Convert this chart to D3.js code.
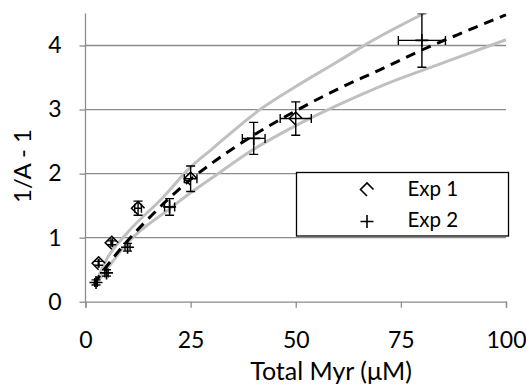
<!DOCTYPE html>
<html>
<head>
<meta charset="utf-8">
<script src="https://cdn.jsdelivr.net/npm/d3@7"></script>
<style>
  html, body { margin: 0; padding: 0; background: #fff; }
  svg { display: block; }
  text { font-family: Lato, "Open Sans", sans-serif; fill: #000; }
</style>
</head>
<body>
<svg id="chart" width="526" height="385"></svg>
<script>
// Experiment 1 (open diamonds)
const exp1X    = [3.125, 6.25, 12.5, 25, 50];
const exp1Y    = [0.60, 0.92, 1.46, 1.92, 2.86];
const exp1ErrY = [0.03, 0.03, 0.11, 0.20, 0.26];
const exp1ErrX = [0.1, 0.2, 0.8, 1.5, 3.7];

// Experiment 2 (plus signs)
const exp2X    = [2.5, 5, 10, 20, 40, 80];
const exp2Y    = [0.30, 0.45, 0.85, 1.48, 2.55, 4.08];
const exp2ErrY = [0.04, 0.05, 0.06, 0.13, 0.25, 0.42];
const exp2ErrX = [0.3, 0.4, 0.6, 1.2, 2.7, 5.6];

// Fitted curve (dashed)
const fitX = [2, 5, 10, 15, 20, 25, 30, 40, 50, 60, 70, 80, 90, 100];
const fitY = [0.28, 0.55, 0.95, 1.30, 1.62, 1.91, 2.16, 2.60, 2.98, 3.32, 3.62, 3.93, 4.21, 4.48];

// Upper and lower bounds (grey)
const upX = [2.7, 5, 10, 18, 25, 30, 41.5, 50, 60, 67, 80.5];
const upY = [0.34, 0.66, 1.08, 1.60, 2.10, 2.38, 3.00, 3.36, 3.75, 4.03, 4.50];
const loX = [2.5, 5, 10, 20, 25, 30, 40, 50, 60, 70, 85, 100];
const loY = [0.28, 0.50, 0.92, 1.45, 1.70, 1.93, 2.38, 2.75, 3.07, 3.36, 3.73, 4.09];

const xTicks = [0, 25, 50, 75, 100];
const yTicks = [0, 1, 2, 3, 4];

const svg = d3.select("#chart");
const plotLeft = 85.5, plotRight = 506, plotTop = 13.5, plotBottom = 301.7;

const x = d3.scaleLinear().domain([0, 100]).range([plotLeft, plotRight]);
const y = d3.scaleLinear().domain([0, 4.5]).range([plotBottom, plotTop]);

const gridColor = "#8c8c8c";
const tickFont = 23;

// horizontal gridlines
svg.append("g").selectAll("line").data(yTicks.filter(d => d > 0)).join("line")
  .attr("x1", plotLeft).attr("x2", plotRight)
  .attr("y1", d => y(d)).attr("y2", d => y(d))
  .attr("stroke", gridColor).attr("stroke-width", 1.3);

// x axis
const xAxis = svg.append("g").attr("transform", `translate(0,${y(0)})`)
  .call(d3.axisBottom(x).tickValues(xTicks).tickSize(6).tickPadding(24).tickFormat(d3.format("d")));
xAxis.select(".domain").attr("stroke", gridColor).attr("stroke-width", 1.3);
xAxis.selectAll(".tick line").attr("stroke", gridColor).attr("stroke-width", 1.3);
xAxis.selectAll("text").attr("font-size", tickFont).attr("font-family", "Lato, sans-serif").attr("fill", "#000");

// y axis
const yAxis = svg.append("g").attr("transform", `translate(${plotLeft},0)`)
  .call(d3.axisLeft(y).tickValues(yTicks).tickSize(6).tickPadding(18).tickFormat(d3.format("d")));
yAxis.select(".domain").attr("stroke", gridColor).attr("stroke-width", 1.3)
  .attr("d", `M0,${y(4.5)}V${y(0)}`);
yAxis.selectAll(".tick line").attr("stroke", gridColor).attr("stroke-width", 1.3);
yAxis.selectAll("text").attr("font-size", tickFont).attr("font-family", "Lato, sans-serif").attr("fill", "#000");

// clip to plot area
svg.append("clipPath").attr("id", "plot")
  .append("rect").attr("x", plotLeft).attr("y", plotTop)
  .attr("width", plotRight - plotLeft + 2).attr("height", plotBottom - plotTop);

const plot = svg.append("g").attr("clip-path", "url(#plot)");

const line = d3.line().x(d => x(d[0])).y(d => y(d[1])).curve(d3.curveMonotoneX);

plot.append("path").datum(d3.zip(upX, upY)).attr("d", line)
  .attr("fill", "none").attr("stroke", "#c0c0c0").attr("stroke-width", 3);
plot.append("path").datum(d3.zip(loX, loY)).attr("d", line)
  .attr("fill", "none").attr("stroke", "#c0c0c0").attr("stroke-width", 3);
plot.append("path").datum(d3.zip(fitX, fitY)).attr("d", line)
  .attr("fill", "none").attr("stroke", "#000").attr("stroke-width", 3)
  .attr("stroke-dasharray", "10,7");

// error bars
function errorBars(xs, ys, ex, ey) {
  const g = plot.append("g").attr("stroke", "#000").attr("stroke-width", 1.4).attr("fill", "none");
  const cap = 4.5;
  xs.forEach((xv, i) => {
    const cx = x(xv), cy = y(ys[i]);
    const y1 = y(ys[i] + ey[i]), y2 = y(ys[i] - ey[i]);
    const x1 = x(xv - ex[i]), x2 = x(xv + ex[i]);
    g.append("path").attr("d",
      `M${cx},${y1}V${y2}M${cx - cap},${y1}H${cx + cap}M${cx - cap},${y2}H${cx + cap}` +
      `M${x1},${cy}H${x2}M${x1},${cy - cap}V${cy + cap}M${x2},${cy - cap}V${cy + cap}`);
  });
}
errorBars(exp1X, exp1Y, exp1ErrX, exp1ErrY);
errorBars(exp2X, exp2Y, exp2ErrX, exp2ErrY);

// markers
const r = 6.5;
const diamondPath = (cx, cy) => `M${cx},${cy + r}L${cx - r},${cy}L${cx},${cy - r}L${cx + r},${cy}`;
const plusPath = (cx, cy) => `M${cx - r},${cy}H${cx + r}M${cx},${cy - r}V${cy + r}`;

plot.append("g").selectAll("path").data(d3.zip(exp1X, exp1Y)).join("path")
  .attr("d", d => diamondPath(x(d[0]), y(d[1])))
  .attr("fill", "none").attr("stroke", "#000").attr("stroke-width", 1.6);
plot.append("g").selectAll("path").data(d3.zip(exp2X, exp2Y)).join("path")
  .attr("d", d => plusPath(x(d[0]), y(d[1])))
  .attr("fill", "none").attr("stroke", "#000").attr("stroke-width", 1.6);

// legend
const lg = svg.append("g");
lg.append("rect").attr("x", 296.5).attr("y", 172.5).attr("width", 212).attr("height", 63.5)
  .attr("fill", "#fff").attr("stroke", "#000").attr("stroke-width", 1.3);
lg.append("path").attr("d", diamondPath(367, 189.5))
  .attr("fill", "none").attr("stroke", "#000").attr("stroke-width", 1.6);
lg.append("path").attr("d", plusPath(367, 221.5))
  .attr("fill", "none").attr("stroke", "#000").attr("stroke-width", 1.6);
lg.append("text").attr("x", 407.5).attr("y", 196).attr("font-size", 20.5).text("Exp 1");
lg.append("text").attr("x", 407.5).attr("y", 227).attr("font-size", 20.5).text("Exp 2");

// axis titles
svg.append("text").attr("x", 331).attr("y", 380).attr("text-anchor", "middle")
  .attr("font-size", 25).text("Total Myr (\u03BCM)");
svg.append("text").attr("transform", "translate(31,166) rotate(-90)")
  .attr("text-anchor", "middle").attr("font-size", 24).text("1/A - 1");
</script>
</body>
</html>
